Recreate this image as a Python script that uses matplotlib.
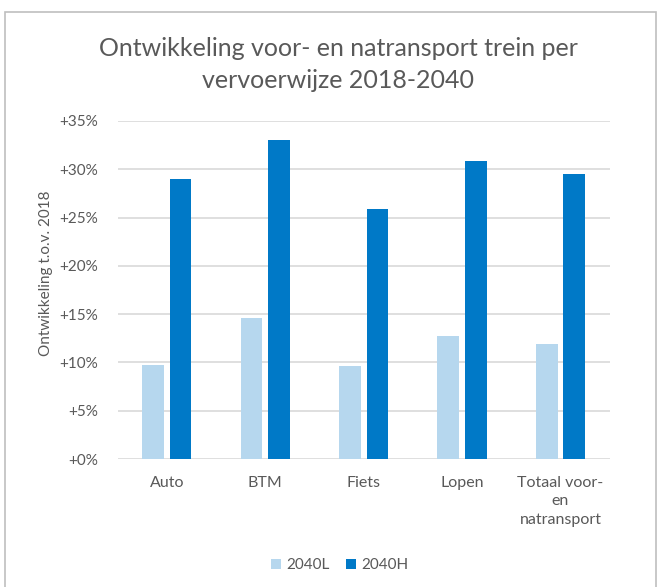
import numpy as np
import matplotlib
matplotlib.use("Agg")
import matplotlib.pyplot as plt
from matplotlib.patches import Rectangle

categories = ["Auto", "BTM", "Fiets", "Lopen", "Totaal voor-\nen\nnatransport"]
series_names = ["2040L", "2040H"]
values_l = [9.7, 14.6, 9.6, 12.7, 11.9]
values_h = [29.0, 33.0, 25.9, 30.9, 29.5]
yticks = [0, 5, 10, 15, 20, 25, 30, 35]
title_lines = ["Ontwikkeling voor- en natransport trein per", "vervoerwijze 2018-2040"]

color_l = "#B6D7EE"
color_h = "#0079C7"
text_color = "#595959"

plt.rcParams["font.family"] = ["Lato", "DejaVu Sans"]

fig = plt.figure(figsize=(6.57, 5.87), dpi=100)
ax = fig.add_axes([0.179, 0.218, 0.749, 0.576])

x = np.arange(len(categories))
width = 0.22
ax.bar(x - 0.14, values_l, width, color=color_l, label=series_names[0], zorder=3)
ax.bar(x + 0.14, values_h, width, color=color_h, label=series_names[1], zorder=3)

ax.set_xlim(-0.5, len(categories) - 0.5)
ax.set_ylim(0, 35)
ax.set_yticks(yticks)
ax.set_yticklabels([f"+{t}%" for t in yticks], color=text_color, fontsize=11)
ax.set_xticks(x)
ax.set_xticklabels(categories, color=text_color, fontsize=11.5, linespacing=1.4, va="top")
ax.tick_params(axis="x", length=0, pad=12)
ax.tick_params(axis="y", length=0, pad=14)

ax.grid(axis="y", color="#D9D9D9", linewidth=1.2, zorder=0)
for s in ax.spines.values():
    s.set_visible(False)

ax.set_ylabel("Ontwikkeling t.o.v. 2018", color=text_color, fontsize=11)
ax.yaxis.set_label_coords(-0.132, 0.55)

fig.text(0.515, 1 - 56 / 587, title_lines[0], ha="center", va="baseline",
         fontsize=18, color=text_color)
fig.text(0.515, 1 - 88 / 587, title_lines[1], ha="center", va="baseline",
         fontsize=18, color=text_color)

leg = fig.legend(loc="center", bbox_to_anchor=(0.517, 0.037), ncol=2, frameon=False,
                 fontsize=11, handlelength=0.65, handleheight=0.65, handletextpad=0.35,
                 columnspacing=1.1)
for t in leg.get_texts():
    t.set_color(text_color)

fig.patches.append(Rectangle((0.008, -0.01), 0.99, 0.99, transform=fig.transFigure,
                             fill=False, edgecolor="#BFBFBF", linewidth=1.2))

fig.savefig("out.png", dpi=100)
